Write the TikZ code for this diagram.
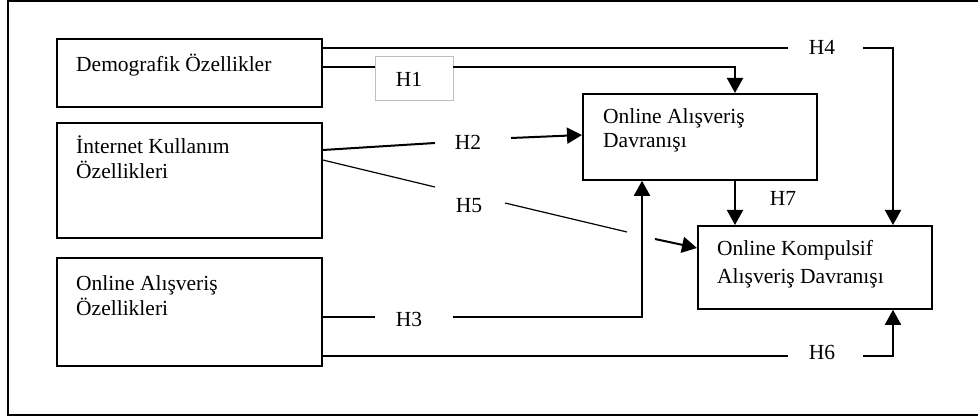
\documentclass[tikz,border=0pt]{standalone}
\usepackage{fontspec}
\setmainfont{Liberation Serif}
\usetikzlibrary{arrows.meta}
\begin{document}
\begin{tikzpicture}[x=1pt,y=-1pt,
  font=\fontsize{21.5}{24.5}\selectfont,
  box/.style={draw,line width=1.8pt,anchor=north west,inner sep=0pt},
  txt/.style={anchor=base west,inner sep=0pt,align=left},
  hlab/.style={anchor=base,inner sep=0pt},
  conn/.style={line width=2pt},
  thinconn/.style={line width=1.2pt},
  arr/.style={line width=2pt,-{Triangle[length=15pt,width=16pt]}}
]
\useasboundingbox (0,0) rectangle (978,417);
% outer frame (right side lies outside the picture)
\draw[line width=2pt] (990,1.5) -- (8,1.5) -- (8,414.5) -- (990,414.5);

% boxes
\node[box,minimum width=265pt,minimum height=68pt] (dem) at (56,38) {};
\node[box,minimum width=265pt,minimum height=115pt] (inet) at (56,122) {};
\node[box,minimum width=265pt,minimum height=108pt] (ozl) at (56,257) {};
\node[box,minimum width=234pt,minimum height=86pt] (davr) at (582,93) {};
\node[box,minimum width=234pt,minimum height=83pt] (komp) at (697,225) {};

% box texts (anchored at the baseline of the last line)
\node[txt] (demT) at (76,72) {Demografik Özellikler};
\node[txt] (inetT) at (76,178.5) {İnternet Kullanım\\Özellikleri};
\node[txt] (ozlT) at (76,315) {Online Alışveriş\\Özellikleri};
\node[txt] (davrT) at (603,147.5) {Online Alışveriş\\Davranışı};
\node[txt,font=\fontsize{21.5}{28}\selectfont] (kompT) at (717,283) {Online Kompulsif\\Alışveriş Davranışı};

% H1 label box
\node[draw=black!25,line width=0.8pt,minimum width=78pt,minimum height=44pt,inner sep=0pt] (h1box) at (414,78) {};
\node[hlab] (h1) at (409,87) {H1};

% hypothesis labels
\node[hlab] (h2) at (468,150) {H2};
\node[hlab] (h5) at (469,212) {H5};
\node[hlab] (h3) at (409,326) {H3};
\node[hlab] (h4) at (822,55) {H4};
\node[hlab] (h6) at (822,359) {H6};
\node[hlab] (h7) at (783,205) {H7};

% waypoints
\coordinate (h4a) at (788,48);
\coordinate (h4b) at (863,48);
\coordinate (h4c) at (893,48);
\coordinate (h1a) at (735,67);
\coordinate (h2a) at (435,143);
\coordinate (h2b) at (511,138);
\coordinate (h5a) at (435,187);
\coordinate (h5b) at (505,203);
\coordinate (h5c) at (627,232);
\coordinate (h5d) at (655,239);
\coordinate (h3a) at (375,317);
\coordinate (h3b) at (453,317);
\coordinate (h3c) at (642,317);
\coordinate (h6a) at (788,356);
\coordinate (h6b) at (863,356);
\coordinate (h6c) at (893,356);

% H4
\draw[conn] (dem.north east |- h4a) -- (h4a);
\draw[arr] (h4b) -- (h4c) -- (komp.north -| h4c);
% H1
\draw[conn] (dem.north east |- h1a) -- (h1box.west |- h1a);
\draw[arr] (h1box.east |- h1a) -- (h1a) -- (davr.north -| h1a);
% H2
\draw[conn] (inet.north east |- 0,150) -- (h2a);
\draw[arr] (h2b) -- (davr.west |- 0,135);
% H5
\draw[thinconn] (inet.north east |- 0,160) -- (h5a);
\draw[thinconn] (h5b) -- (h5c);
\draw[arr] (h5d) -- (komp.west |- 0,248);
% H3
\draw[conn] (ozl.north east |- h3a) -- (h3a);
\draw[arr] (h3b) -- (h3c) -- (davr.south -| h3c);
% H6
\draw[conn] (ozl.north east |- h6a) -- (h6a);
\draw[arr] (h6b) -- (h6c) -- (komp.south -| h6c);
% H7
\draw[arr] (davr.south -| h1a) -- (komp.north -| h1a);
\end{tikzpicture}
\end{document}
